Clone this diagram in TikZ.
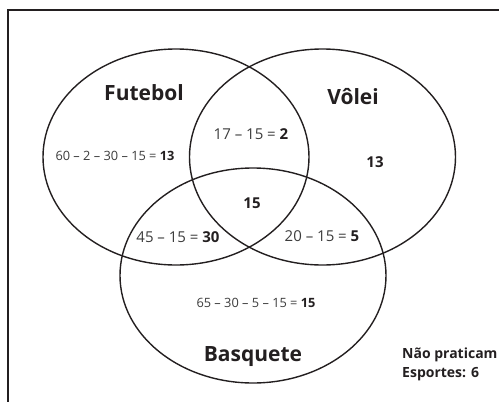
\documentclass[tikz,border=0pt]{standalone}
\usepackage{fontspec}
\setmainfont{Open Sans}
\usepackage{tikz}
\usetikzlibrary{shapes,positioning}
\definecolor{ink}{RGB}{35,31,32}
\definecolor{soft}{RGB}{60,60,60}
\tikzset{
	venn/.style={draw=ink,line width=1.4pt,ellipse,inner sep=0pt,minimum width=266pt,minimum height=216pt},
	setname/.style={font=\fontsize{21}{23}\selectfont\bfseries,text=ink},
	calc/.style={font=\fontsize{12.8}{14}\selectfont,text=soft},
	calcbig/.style={calc,font=\fontsize{15}{17}\selectfont},
	note/.style={font=\fontsize{14}{19}\selectfont\bfseries,text=ink,align=left}
}
\begin{document}
\begin{tikzpicture}[x=1pt,y=-1pt]
						\useasboundingbox (0,0) rectangle (499,402);
						\draw[ink,line width=2pt] (8,402) -- (8,10) -- (499,10);
						
						\node[venn] (fut) at (176,157) {};
						\node[venn] (vol) at (322.5,157) {};
						\node[venn,minimum height=215pt] (bas) at (253,275.5) {};
						
						\node[setname] (futname) at (144,93) {Futebol};
						\node[setname] (volname) at (353,97) {Vôlei};
						\node[setname] (basname) at (253,357) {Basquete};
						
						\node[calc] (onlyfut) at (115,156) {60 – 2 – 30 – 15 = \textbf{\color{ink}13}};
						\node[calcbig] (futvol) at (251,134) {17 – 15 = \textbf{\color{ink}2}};
						\node[calcbig] (onlyvol) at (375,162) {\textbf{\color{ink}13}};
						\node[calcbig] (all) at (252,203) {\textbf{\color{ink}15}};
						\node[calcbig] (futbas) at (178,237) {45 – 15 = \textbf{\color{ink}30}};
						\node[calcbig] (volbas) at (322,236) {20 – 15 = \textbf{\color{ink}5}};
						\node[calc] (onlybas) at (256,303) {65 – 30 – 5 – 15 = \textbf{\color{ink}15}};
						
						\node[note,anchor=north west,inner sep=0pt] (none) at (402,348) {Não praticam\\Esportes: 6};
					\end{tikzpicture}
\end{document}
